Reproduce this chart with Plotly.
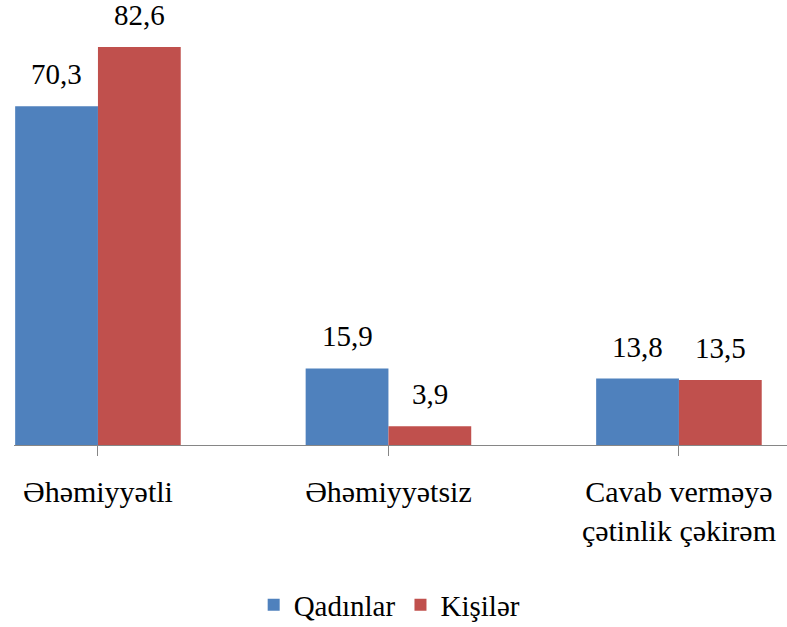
import plotly.graph_objects as go

categories = ["Əhəmiyyətli", "Əhəmiyyətsiz", "Cavab verməyə<br>çətinlik çəkirəm"]
qadinlar = [70.3, 15.9, 13.8]
kisiler = [82.6, 3.9, 13.5]
series_names = ["Qadınlar", "Kişilər"]
colors = ["#4F81BD", "#C0504D"]

def fmt(v):
    return f"{v:.1f}".replace(".", ",")

font_family = "Liberation Serif, Times New Roman, serif"
bargap = 0.43
half_bar = (1 - bargap) / 4  # centre offset of each bar in a 2-bar group

fig = go.Figure()
for k, (name, vals, col) in enumerate(zip(series_names, [qadinlar, kisiler], colors)):
    xs = list(range(len(categories)))
    fig.add_trace(go.Bar(
        x=xs, y=vals, name=name,
        marker=dict(color=col, line=dict(width=0)),
    ))
    sign = -1 if k == 0 else 1
    for xi, v in zip(xs, vals):
        fig.add_annotation(
            x=xi + sign * half_bar, y=v, xref="x", yref="y",
            text=fmt(v), showarrow=False, yanchor="bottom", yshift=14,
            font=dict(family=font_family, size=29, color="#000000"),
        )

fig.update_layout(
    width=787, height=627,
    barmode="group", bargap=bargap, bargroupgap=0,
    plot_bgcolor="white", paper_bgcolor="white",
    margin=dict(l=14, r=0, t=20, b=182, autoexpand=False),
    font=dict(family=font_family, size=30, color="#000000"),
    legend=dict(orientation="h", x=0.486, xanchor="center", y=-0.376, yanchor="middle",
                font=dict(family=font_family, size=29), itemwidth=30, traceorder="normal"),
    showlegend=True,
)
fig.update_xaxes(
    tickmode="array", tickvals=list(range(len(categories))), ticktext=categories,
    range=[-0.289, 2.372], automargin=False,
    showline=True, linecolor="#868686", linewidth=1,
    ticks="outside", ticklen=10, tickcolor="#868686", tickson="boundaries",
    ticklabelstandoff=10,
    showgrid=False, zeroline=False,
    tickfont=dict(family=font_family, size=30, color="#000000"),
)
fig.update_yaxes(visible=False, range=[0, 88.2], showgrid=False, zeroline=False, automargin=False)

fig.write_html("out.html", config={"displayModeBar": False},
               post_script="document.body.style.margin='0';")
